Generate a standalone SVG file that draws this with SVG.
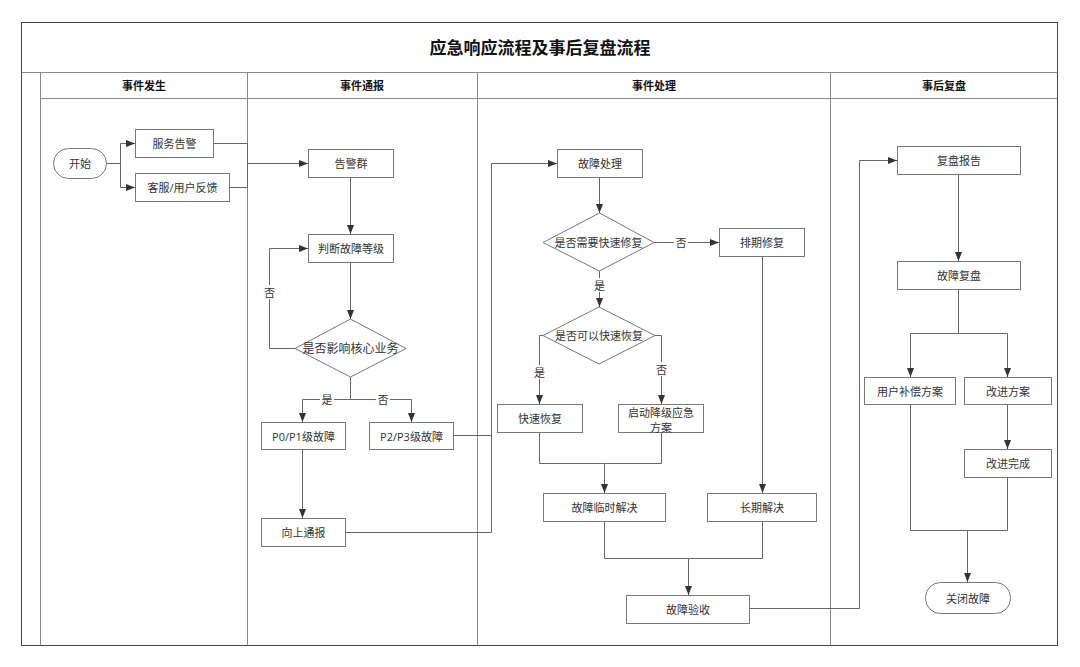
<svg xmlns="http://www.w3.org/2000/svg" width="1080" height="667" viewBox="0 0 1080 667">
<defs>
<marker id="arr" markerUnits="userSpaceOnUse" markerWidth="10" markerHeight="8" refX="9" refY="4" orient="auto">
<path d="M0,0.5 L9,4 L0,7.5 Z" fill="#333"/>
</marker>
<style>
text{font-family:"Open Sans","Noto Sans CJK SC",sans-serif;fill:#333;text-anchor:middle;dominant-baseline:central}
.t{font-size:17px;font-weight:bold;fill:#111}
.h{font-size:11px;font-weight:bold;fill:#111}
.n{font-size:11px}
.box{fill:#fff;stroke:#777;stroke-width:1}
.frame{fill:none;stroke:#444;stroke-width:1}
.div{fill:none;stroke:#888;stroke-width:1}
.c{fill:none;stroke:#666;stroke-width:1}
.ca{fill:none;stroke:#666;stroke-width:1;marker-end:url(#arr)}
.lb{fill:#fff;stroke:none}
</style>
</defs>
<rect width="1080" height="667" fill="#fff"/>
<g id="frame">
<rect class="frame" x="21.5" y="22.5" width="1036" height="623"/>
<line class="div" x1="21.5" y1="72.5" x2="1057.5" y2="72.5"/>
<line class="div" x1="40.5" y1="72.5" x2="40.5" y2="645.5"/>
<line class="div" x1="40.5" y1="98.5" x2="1057.5" y2="98.5"/>
<line class="div" x1="247.5" y1="72.5" x2="247.5" y2="645.5"/>
<line class="div" x1="477.5" y1="72.5" x2="477.5" y2="645.5"/>
<line class="div" x1="830.5" y1="72.5" x2="830.5" y2="645.5"/>
<text class="t" x="540" y="47">应急响应流程及事后复盘流程</text>
<text class="h" x="144" y="85.5">事件发生</text>
<text class="h" x="362" y="85.5">事件通报</text>
<text class="h" x="654" y="85.5">事件处理</text>
<text class="h" x="944" y="85.5">事后复盘</text>
</g>
<g id="connectors">
<path class="ca" d="M106,163.5 H120.5 V143.5 H135"/>
<path class="ca" d="M106,163.5 H120.5 V187.5 H135"/>
<path class="ca" d="M213,143.5 H247.5 V163.5 H308"/>
<path class="c" d="M229,187.5 H247.5 V163.5"/>
<path class="ca" d="M350.5,177 V234"/>
<path class="ca" d="M350.5,262 V319"/>
<path class="ca" d="M295,348.5 H269.5 V248.5 H308"/>
<path class="ca" d="M350.5,377 V399.5 H302.5 V422"/>
<path class="ca" d="M350.5,399.5 H411.5 V422"/>
<path class="ca" d="M302.5,449 V518"/>
<path class="ca" d="M453,435.5 H491.5 V163.5 H557"/>
<path class="c" d="M345,532.5 H491.5 V435.5"/>
<path class="ca" d="M599.5,177 V213"/>
<path class="ca" d="M654,242.5 H719"/>
<path class="ca" d="M599.5,271 V307"/>
<path class="ca" d="M543,335.5 H539.5 V404"/>
<path class="ca" d="M655,335.5 H661.5 V404"/>
<path class="ca" d="M539.5,432 V463.5 H604.5 V493"/>
<path class="c" d="M661.5,432 V463.5 H604.5"/>
<path class="ca" d="M762.5,256 V493"/>
<path class="ca" d="M604.5,521 V558.5 H688.5 V595"/>
<path class="c" d="M762.5,521 V558.5 H688.5"/>
<path class="ca" d="M749,608.5 H859.5 V160.5 H897"/>
<path class="ca" d="M958.5,174 V261"/>
<path class="ca" d="M958.5,289 V333.5 H910.5 V377"/>
<path class="ca" d="M958.5,333.5 H1007.5 V377"/>
<path class="ca" d="M1007.5,404 V449"/>
<path class="ca" d="M910.5,404 V530.5 H967.5 V582"/>
<path class="c" d="M1007.5,477 V530.5 H967.5"/>
<rect class="lb" x="263" y="285" width="13" height="14"/>
<text class="n" x="269.5" y="292">否</text>
<rect class="lb" x="320" y="392" width="14" height="14"/>
<text class="n" x="327" y="399">是</text>
<rect class="lb" x="376" y="392" width="14" height="14"/>
<text class="n" x="383" y="399">否</text>
<rect class="lb" x="674" y="235" width="14" height="14"/>
<text class="n" x="681" y="242">否</text>
<rect class="lb" x="593" y="278" width="13" height="14"/>
<text class="n" x="599.5" y="285">是</text>
<rect class="lb" x="533" y="365" width="13" height="14"/>
<text class="n" x="539.5" y="372">是</text>
<rect class="lb" x="655" y="362" width="13" height="14"/>
<text class="n" x="661.5" y="369">否</text>
</g>
<g id="start"><rect class="box" x="53.5" y="148.5" width="53" height="30" rx="15"/><text class="n" x="80" y="163.5">开始</text></g>
<g id="alert"><rect class="box" x="135.5" y="129.5" width="78" height="28"/><text class="n" x="174.5" y="143.5">服务告警</text></g>
<g id="feedback"><rect class="box" x="135.5" y="173.5" width="94" height="28"/><text class="n" x="182.5" y="187.5">客服/用户反馈</text></g>
<g id="alertgroup"><rect class="box" x="308.5" y="149.5" width="85" height="28"/><text class="n" x="351" y="163.5">告警群</text></g>
<g id="judge"><rect class="box" x="308.5" y="234.5" width="85" height="28"/><text class="n" x="351" y="248.5">判断故障等级</text></g>
<g id="core"><polygon class="box" points="295,348.5 350.5,319 406,348.5 350.5,377"/><text class="n" x="350.5" y="348.5" style="font-size:12px">是否影响核心业务</text></g>
<g id="p01"><rect class="box" x="261.5" y="422.5" width="84" height="27"/><text class="n" x="303.5" y="436">P0/P1级故障</text></g>
<g id="p23"><rect class="box" x="369.5" y="422.5" width="84" height="27"/><text class="n" x="411.5" y="436">P2/P3级故障</text></g>
<g id="escalate"><rect class="box" x="261.5" y="518.5" width="84" height="28"/><text class="n" x="303.5" y="532.5">向上通报</text></g>
<g id="handle"><rect class="box" x="557.5" y="149.5" width="85" height="28"/><text class="n" x="600" y="163.5">故障处理</text></g>
<g id="needfast"><polygon class="box" points="543,242.5 599.5,213 654,242.5 599.5,271"/><text class="n" x="598.5" y="242.5">是否需要快速修复</text></g>
<g id="schedule"><rect class="box" x="719.5" y="228.5" width="85" height="28"/><text class="n" x="762" y="242.5">排期修复</text></g>
<g id="canfast"><polygon class="box" points="543,335.5 599,307 655,335.5 599,364"/><text class="n" x="599" y="335.5">是否可以快速恢复</text></g>
<g id="quick"><rect class="box" x="497.5" y="404.5" width="85" height="28"/><text class="n" x="540" y="418.5">快速恢复</text></g>
<g id="degrade"><rect class="box" x="618.5" y="404.5" width="85" height="28"/><text class="n" x="661" y="412">启动降级应急</text><text class="n" x="661" y="427">方案</text></g>
<g id="temp"><rect class="box" x="543.5" y="493.5" width="122" height="28"/><text class="n" x="604.5" y="507.5">故障临时解决</text></g>
<g id="longterm"><rect class="box" x="707.5" y="493.5" width="109" height="28"/><text class="n" x="762" y="507.5">长期解决</text></g>
<g id="accept"><rect class="box" x="626.5" y="595.5" width="123" height="28"/><text class="n" x="688" y="609.5">故障验收</text></g>
<g id="report"><rect class="box" x="897.5" y="146.5" width="123" height="28"/><text class="n" x="959" y="160.5">复盘报告</text></g>
<g id="review"><rect class="box" x="897.5" y="261.5" width="123" height="28"/><text class="n" x="959" y="275.5">故障复盘</text></g>
<g id="compensate"><rect class="box" x="864.5" y="377.5" width="91" height="27"/><text class="n" x="910" y="391">用户补偿方案</text></g>
<g id="improve"><rect class="box" x="964.5" y="377.5" width="87" height="27"/><text class="n" x="1008" y="391">改进方案</text></g>
<g id="improved"><rect class="box" x="964.5" y="449.5" width="87" height="28"/><text class="n" x="1008" y="463.5">改进完成</text></g>
<g id="close"><rect class="box" x="925.5" y="582.5" width="85" height="31" rx="15"/><text class="n" x="968" y="598">关闭故障</text></g>
</svg>
